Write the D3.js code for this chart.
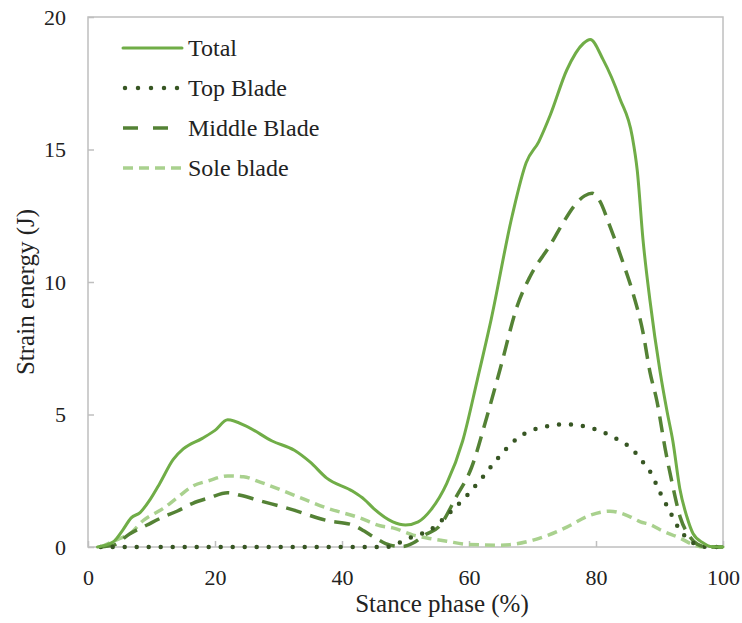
<!DOCTYPE html>
<html>
<head>
<meta charset="utf-8">
<script src="https://cdn.jsdelivr.net/npm/d3@7"></script>
<style>
  html, body { margin: 0; padding: 0; background: #fff; }
</style>
</head>
<body>
<svg id="chart" width="742" height="623"></svg>
<script>
// Stance phase (%) sample positions and strain energy (J) for each blade
const totalX = [1.5, 4, 5.5, 6.8, 8.2, 9.8, 11.3, 13.4, 15, 18, 20, 22, 25, 29, 32.5, 35, 37.6, 41.7, 43.5, 45, 48, 50, 52, 54, 56.5, 59, 61.3, 63.5, 66.8, 69, 71, 72.8, 75.4, 78, 79.1, 81.1, 83.8, 85.7, 86.5, 87.4, 88.5, 90.1, 91.2, 92.1, 93.2, 94.3, 95.3, 96.9, 98, 100];
const totalY = [0, 0.2, 0.65, 1.1, 1.3, 1.8, 2.4, 3.3, 3.7, 4.1, 4.4, 4.8, 4.55, 4.0, 3.65, 3.2, 2.6, 2.1, 1.8, 1.45, 0.95, 0.83, 0.95, 1.4, 2.4, 4.0, 6.3, 8.6, 12.5, 14.5, 15.3, 16.3, 18.0, 19.0, 19.15, 18.4, 16.9, 15.5, 14.2, 11.6, 9.3, 6.6, 5.1, 4.0, 2.2, 1.15, 0.5, 0.15, 0.02, 0];

const topX = [2, 10, 20, 30, 40, 47, 48.5, 50.2, 52, 53.9, 57, 59.7, 62.2, 64.9, 67.6, 71.2, 75.4, 79.1, 82.7, 85.8, 87.4, 88.5, 90.2, 91.5, 93, 94.3, 96, 97.5, 100];
const topY = [0, 0, 0, 0, 0, 0, 0.1, 0.3, 0.45, 0.65, 1.3, 1.95, 2.65, 3.45, 4.1, 4.5, 4.63, 4.5, 4.15, 3.66, 3.2, 2.85, 2.0, 1.4, 0.72, 0.34, 0.07, 0, 0];

const middleX = [2, 4, 6.6, 9.3, 11.8, 14, 16.5, 19, 22, 24, 27, 32.3, 37.6, 41.7, 43.5, 45, 47.6, 49.5, 51.2, 53, 55.4, 58, 60.4, 62.8, 65, 67.6, 69.6, 72.8, 74.5, 76.5, 78.2, 79.4, 80.5, 82.2, 84.3, 85.8, 87.4, 88.5, 89.6, 90.9, 92, 93.3, 94.8, 96, 97.5, 100];
const middleY = [0, 0.07, 0.5, 0.83, 1.13, 1.35, 1.65, 1.85, 2.05, 1.95, 1.75, 1.4, 1.0, 0.83, 0.6, 0.38, 0.07, 0.02, 0.15, 0.45, 0.8, 1.9, 3.0, 4.9, 6.8, 9.1, 10.2, 11.4, 12.1, 12.85, 13.25, 13.35, 13.1, 12.1, 10.7, 9.6, 8.1, 6.6, 5.5, 3.7, 2.4, 1.1, 0.38, 0.1, 0, 0];

const soleX = [2, 4.6, 6.6, 8.7, 11.8, 14, 16.5, 19, 22, 24.5, 27.1, 32.3, 37.6, 42.8, 46, 48, 51.2, 53.4, 56.5, 59.7, 64.9, 67.5, 70.1, 72.5, 75.4, 79.1, 82.2, 85.3, 87, 88.5, 90.1, 93.2, 95.5, 97, 100];
const soleY = [0, 0.28, 0.5, 1.0, 1.45, 1.85, 2.3, 2.5, 2.68, 2.65, 2.45, 1.97, 1.47, 1.1, 0.8, 0.72, 0.45, 0.34, 0.22, 0.1, 0.07, 0.12, 0.26, 0.45, 0.75, 1.2, 1.35, 1.15, 0.95, 0.85, 0.65, 0.34, 0.07, 0, 0];

const seriesNames = ["Total", "Top Blade", "Middle Blade", "Sole blade"];
const xTicks = [0, 20, 40, 60, 80, 100];
const yTicks = [0, 5, 10, 15, 20];

const FONT = "Liberation Serif";

const seriesStyle = {
  "Total":        { color: "#70ad47", width: 3,   dash: null,    cap: "round" },
  "Top Blade":    { color: "#375623", width: 4.5, dash: "0,12",  cap: "round" },
  "Middle Blade": { color: "#548235", width: 3.5, dash: "16,9",  cap: "butt" },
  "Sole blade":   { color: "#a9d18e", width: 3.5, dash: "10,6",  cap: "butt" }
};

const zip = (xs, ys) => xs.map((x, i) => ({ x, y: ys[i] }));
const series = [
  { name: "Total",        points: zip(totalX, totalY) },
  { name: "Top Blade",    points: zip(topX, topY) },
  { name: "Middle Blade", points: zip(middleX, middleY) },
  { name: "Sole blade",   points: zip(soleX, soleY) }
];

const svg = d3.select("#chart").attr("font-family", FONT);
const margin = { left: 88, right: 19, top: 17, bottom: 76 };
const W = 742, H = 623;
const iw = W - margin.left - margin.right;
const ih = H - margin.top - margin.bottom;

const x = d3.scaleLinear().domain([0, 100]).range([0, iw]);
const y = d3.scaleLinear().domain([0, 20]).range([ih, 0]);

const g = svg.append("g").attr("transform", `translate(${margin.left},${margin.top})`);

// axes with short inward ticks
const xAxis = g.append("g")
  .attr("transform", `translate(0,${ih})`)
  .call(d3.axisBottom(x).tickValues(xTicks).tickSizeInner(-6).tickSizeOuter(0).tickPadding(22));
const yAxis = g.append("g")
  .call(d3.axisLeft(y).tickValues(yTicks).tickSizeInner(-6).tickSizeOuter(0).tickPadding(22));

[xAxis, yAxis].forEach(ax => {
  ax.attr("font-family", FONT).attr("font-size", 22);
  ax.select(".domain").remove();
  ax.selectAll(".tick line").attr("stroke", "#bfbfbf").attr("stroke-width", 1.5);
  ax.selectAll(".tick text").attr("fill", "#222");
});

// plot frame
g.append("rect")
  .attr("x", 0).attr("y", 0).attr("width", iw).attr("height", ih)
  .attr("fill", "none").attr("stroke", "#bfbfbf").attr("stroke-width", 1.5);

// curves
const line = d3.line()
  .x(d => x(d.x))
  .y(d => y(d.y))
  .curve(d3.curveMonotoneX);

const drawOrder = ["Sole blade", "Middle Blade", "Top Blade", "Total"];
drawOrder.forEach(name => {
  const s = series.find(d => d.name === name);
  const st = seriesStyle[name];
  g.append("path")
    .datum(s.points)
    .attr("d", line)
    .attr("fill", "none")
    .attr("stroke", st.color)
    .attr("stroke-width", st.width)
    .attr("stroke-linecap", st.cap)
    .attr("stroke-linejoin", "round")
    .attr("stroke-dasharray", st.dash);
});

// axis titles
svg.append("text")
  .attr("x", 442).attr("y", 612)
  .attr("text-anchor", "middle")
  .attr("fill", "#222")
  .attr("font-family", FONT)
  .attr("font-size", 25)
  .text("Stance phase (%)");

svg.append("text")
  .attr("transform", "translate(34,292) rotate(-90)")
  .attr("text-anchor", "middle")
  .attr("fill", "#222")
  .attr("font-family", FONT)
  .attr("font-size", 25)
  .text("Strain energy (J)");

// legend
const legend = svg.append("g");
const rowY = d3.scalePoint().domain(seriesNames).range([48, 168]);
seriesNames.forEach(name => {
  const st = seriesStyle[name];
  const ry = rowY(name);
  legend.append("line")
    .attr("x1", name === "Top Blade" ? 125 : 123).attr("x2", 182)
    .attr("y1", ry).attr("y2", ry)
    .attr("stroke", st.color)
    .attr("stroke-width", st.width)
    .attr("stroke-linecap", st.cap)
    .attr("stroke-dasharray", name === "Middle Blade" ? "15,15" : (name === "Top Blade" ? "0,13" : st.dash));
  legend.append("text")
    .attr("x", 188).attr("y", ry + 8)
    .attr("fill", "#222")
    .attr("font-family", FONT)
    .attr("font-size", 24)
    .text(name);
});
</script>
</body>
</html>
